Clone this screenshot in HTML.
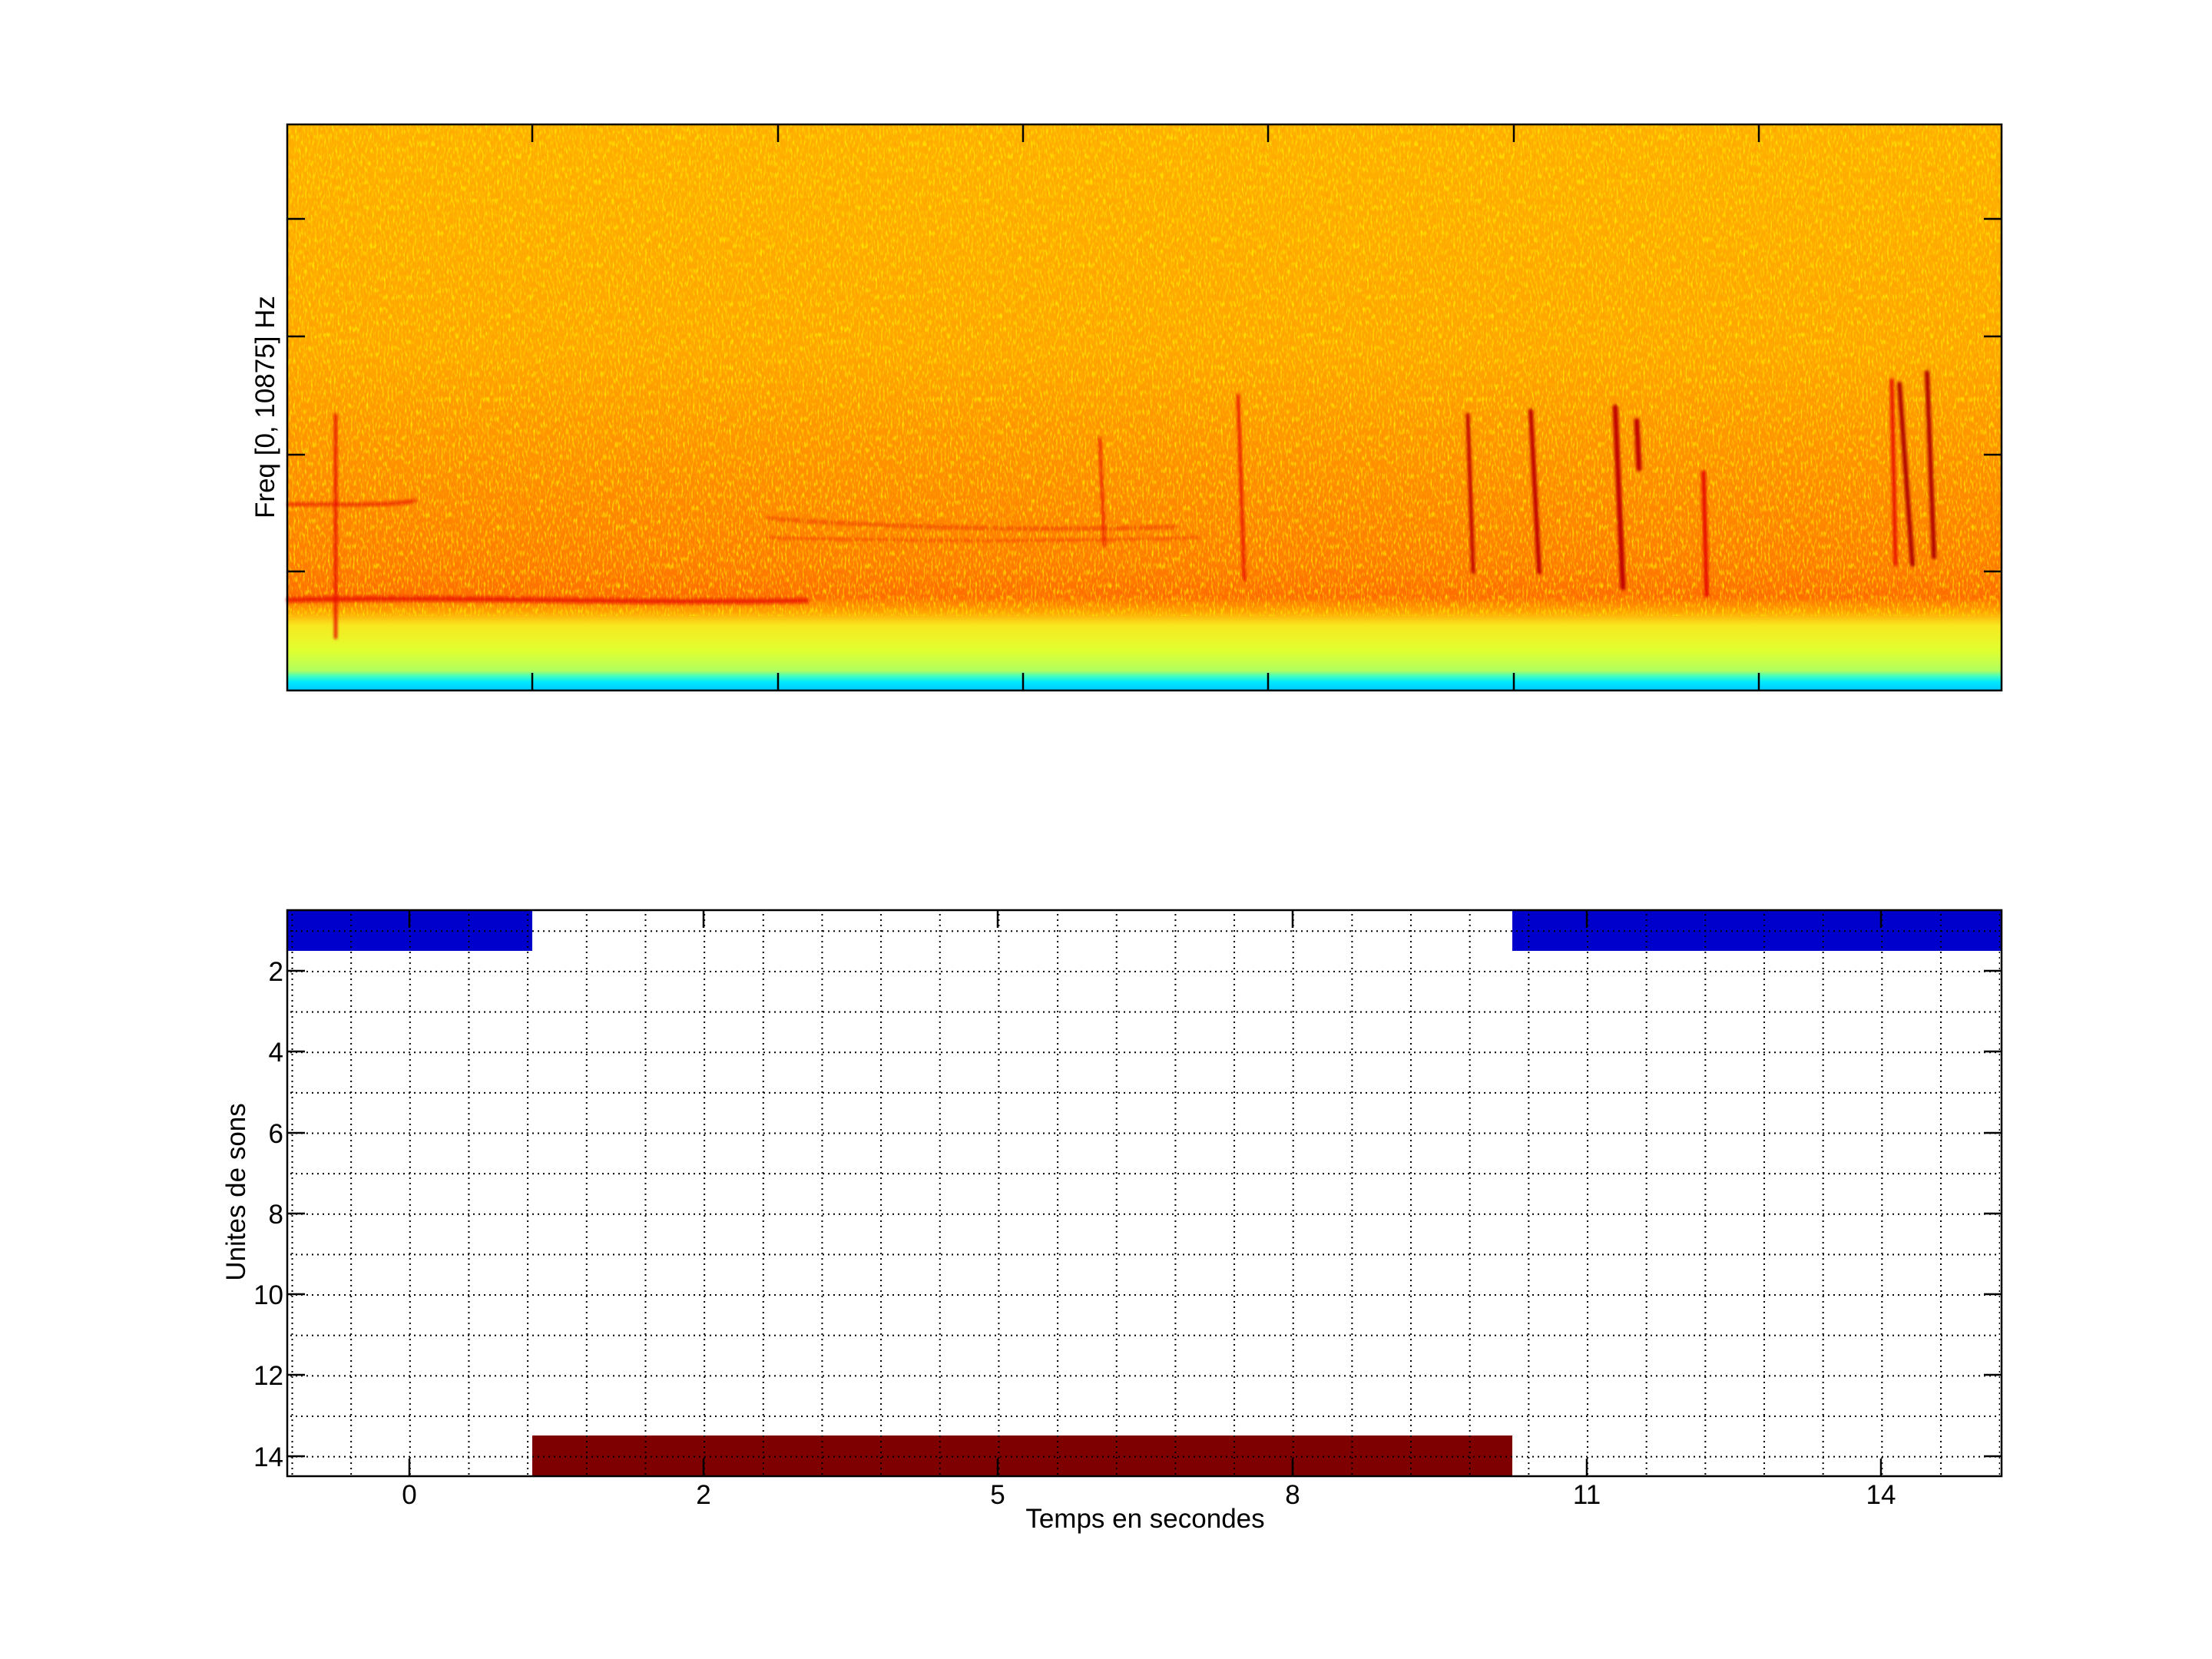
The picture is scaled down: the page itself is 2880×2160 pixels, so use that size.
<!DOCTYPE html>
<html><head><meta charset="utf-8"><style>html,body{margin:0;padding:0;background:#fff}svg{display:block}</style></head>
<body>
<svg width="2880" height="2160" viewBox="0 0 2880 2160" xmlns="http://www.w3.org/2000/svg" font-family="Liberation Sans, sans-serif">
<defs>
<linearGradient id="spec" x1="0" y1="0" x2="0" y2="1">
<stop offset="0" stop-color="#ffb000"/>
<stop offset="0.40" stop-color="#ffa600"/>
<stop offset="0.58" stop-color="#ff9200"/>
<stop offset="0.78" stop-color="#ff7c00"/>
<stop offset="0.835" stop-color="#ff6c00"/>
<stop offset="0.86" stop-color="#ffa000"/>
<stop offset="0.885" stop-color="#f8e820"/>
<stop offset="0.93" stop-color="#e0ff30"/>
<stop offset="0.965" stop-color="#b0ff60"/>
<stop offset="0.975" stop-color="#40ffc0"/>
<stop offset="0.985" stop-color="#00e8ff"/>
<stop offset="1" stop-color="#00c8ff"/>
</linearGradient>
<filter id="noise" x="0" y="0" width="100%" height="100%">
<feTurbulence type="fractalNoise" baseFrequency="0.4 0.12" numOctaves="2" seed="3"/>
<feColorMatrix type="matrix" values="0 0 0 0 1  0 0 0 0 1  0 0 0 0 0  0 0 0 3 -1.45"/>
</filter>
<filter id="noise2" x="0" y="0" width="100%" height="100%">
<feTurbulence type="fractalNoise" baseFrequency="0.4 0.12" numOctaves="2" seed="11"/>
<feColorMatrix type="matrix" values="0 0 0 0 1  0 0 0 0 0.3  0 0 0 0 0  0 0 0 3 -1.5"/>
</filter>
<filter id="blur"><feGaussianBlur stdDeviation="1.8"/></filter>
<pattern id="vgrid" patternUnits="userSpaceOnUse" x="379.5" y="0" width="76.66" height="7"><rect x="0" y="0" width="2" height="2" fill="#000"/></pattern>
<pattern id="hgrid" patternUnits="userSpaceOnUse" x="0" y="1211.3" width="7" height="52.64"><rect x="0" y="0" width="2" height="2" fill="#000"/></pattern>
</defs>

<rect x="374" y="162" width="2232" height="737" fill="url(#spec)"/>
<rect x="374" y="162" width="2232" height="640" filter="url(#noise)" opacity="0.7"/>
<rect x="374" y="162" width="2232" height="640" filter="url(#noise2)" opacity="0.35"/>
<g stroke="#e81000" fill="none" stroke-linecap="round" filter="url(#blur)">
<path d="M376 781 C 600 776, 800 786, 1050 782" stroke-width="7" opacity="0.8"/>
<path d="M376 657 C 440 655, 500 660, 540 652" stroke-width="5" opacity="0.7"/>
<path d="M1000 675 C 1200 690, 1400 690, 1530 686" stroke-width="4" opacity="0.5"/>
<path d="M1000 700 C 1200 705, 1400 705, 1560 700" stroke-width="3" opacity="0.4"/>
<line x1="437" y1="540" x2="437" y2="830" stroke-width="4"/>
<line x1="1432" y1="570" x2="1438" y2="710" stroke-width="3"/>
<line x1="1612" y1="515" x2="1620" y2="755" stroke-width="4"/>
<line x1="1911" y1="540" x2="1918" y2="745" stroke-width="5" stroke="#c00000"/>
<line x1="1993" y1="535" x2="2004" y2="745" stroke-width="6" stroke="#c00000"/>
<line x1="2103" y1="530" x2="2113" y2="765" stroke-width="7" stroke="#c00000"/>
<line x1="2131" y1="548" x2="2134" y2="610" stroke-width="7" stroke="#c00000"/>
<line x1="2218" y1="615" x2="2222" y2="775" stroke-width="6"/>
<line x1="2463" y1="495" x2="2468" y2="735" stroke-width="5"/>
<line x1="2473" y1="500" x2="2490" y2="735" stroke-width="6" stroke="#b00000"/>
<line x1="2509" y1="485" x2="2518" y2="725" stroke-width="6" stroke="#b00000"/>
</g>
<rect x="374" y="162" width="2232" height="737" fill="none" stroke="#000" stroke-width="2.5"/>
<g stroke="#000" stroke-width="2.5">
<line x1="374" y1="285" x2="397" y2="285"/><line x1="374" y1="438" x2="397" y2="438"/><line x1="374" y1="592" x2="397" y2="592"/><line x1="374" y1="744" x2="397" y2="744"/>
<line x1="2583" y1="285" x2="2606" y2="285"/><line x1="2583" y1="438" x2="2606" y2="438"/><line x1="2583" y1="592" x2="2606" y2="592"/><line x1="2583" y1="744" x2="2606" y2="744"/>
<line x1="693" y1="899" x2="693" y2="876"/><line x1="1013" y1="899" x2="1013" y2="876"/><line x1="1332" y1="899" x2="1332" y2="876"/><line x1="1651" y1="899" x2="1651" y2="876"/><line x1="1971" y1="899" x2="1971" y2="876"/><line x1="2290" y1="899" x2="2290" y2="876"/>
<line x1="693" y1="162" x2="693" y2="185"/><line x1="1013" y1="162" x2="1013" y2="185"/><line x1="1332" y1="162" x2="1332" y2="185"/><line x1="1651" y1="162" x2="1651" y2="185"/><line x1="1971" y1="162" x2="1971" y2="185"/><line x1="2290" y1="162" x2="2290" y2="185"/>
</g>
<text x="357" y="530" font-size="35" text-anchor="middle" transform="rotate(-90 357 530)">Freq [0, 10875] Hz</text>

<rect x="374" y="1185" width="2232" height="737" fill="#fff"/>
<rect x="374" y="1185" width="319" height="53" fill="#0000cd"/>
<rect x="1969" y="1185" width="637" height="53" fill="#0000cd"/>
<rect x="693" y="1869" width="1276" height="53" fill="#7f0000"/>
<rect x="376" y="1187" width="2228" height="733" fill="url(#vgrid)"/>
<rect x="376" y="1187" width="2228" height="733" fill="url(#hgrid)"/>
<rect x="374" y="1185" width="2232" height="737" fill="none" stroke="#000" stroke-width="2.5"/>
<g stroke="#000" stroke-width="2.5">
<line x1="374" y1="1264" x2="397" y2="1264"/><line x1="374" y1="1369" x2="397" y2="1369"/><line x1="374" y1="1475" x2="397" y2="1475"/><line x1="374" y1="1580" x2="397" y2="1580"/><line x1="374" y1="1685" x2="397" y2="1685"/><line x1="374" y1="1790" x2="397" y2="1790"/><line x1="374" y1="1896" x2="397" y2="1896"/>
<line x1="2583" y1="1264" x2="2606" y2="1264"/><line x1="2583" y1="1369" x2="2606" y2="1369"/><line x1="2583" y1="1475" x2="2606" y2="1475"/><line x1="2583" y1="1580" x2="2606" y2="1580"/><line x1="2583" y1="1685" x2="2606" y2="1685"/><line x1="2583" y1="1790" x2="2606" y2="1790"/><line x1="2583" y1="1896" x2="2606" y2="1896"/>
<line x1="533" y1="1922" x2="533" y2="1899"/><line x1="916" y1="1922" x2="916" y2="1899"/><line x1="1299" y1="1922" x2="1299" y2="1899"/><line x1="1683" y1="1922" x2="1683" y2="1899"/><line x1="2066" y1="1922" x2="2066" y2="1899"/><line x1="2449" y1="1922" x2="2449" y2="1899"/>
<line x1="533" y1="1185" x2="533" y2="1208"/><line x1="916" y1="1185" x2="916" y2="1208"/><line x1="1299" y1="1185" x2="1299" y2="1208"/><line x1="1683" y1="1185" x2="1683" y2="1208"/><line x1="2066" y1="1185" x2="2066" y2="1208"/><line x1="2449" y1="1185" x2="2449" y2="1208"/>
</g>
<g font-size="35" text-anchor="end">
<text x="369" y="1277">2</text><text x="369" y="1382">4</text><text x="369" y="1488">6</text><text x="369" y="1593">8</text><text x="369" y="1698">10</text><text x="369" y="1803">12</text><text x="369" y="1909">14</text>
</g>
<g font-size="35" text-anchor="middle">
<text x="533" y="1958">0</text><text x="916" y="1958">2</text><text x="1299" y="1958">5</text><text x="1683" y="1958">8</text><text x="2066" y="1958">11</text><text x="2449" y="1958">14</text>
<text x="1491" y="1989">Temps en secondes</text>
<text x="319" y="1552" transform="rotate(-90 319 1552)">Unites de sons</text>
</g>
</svg>
</body></html>
